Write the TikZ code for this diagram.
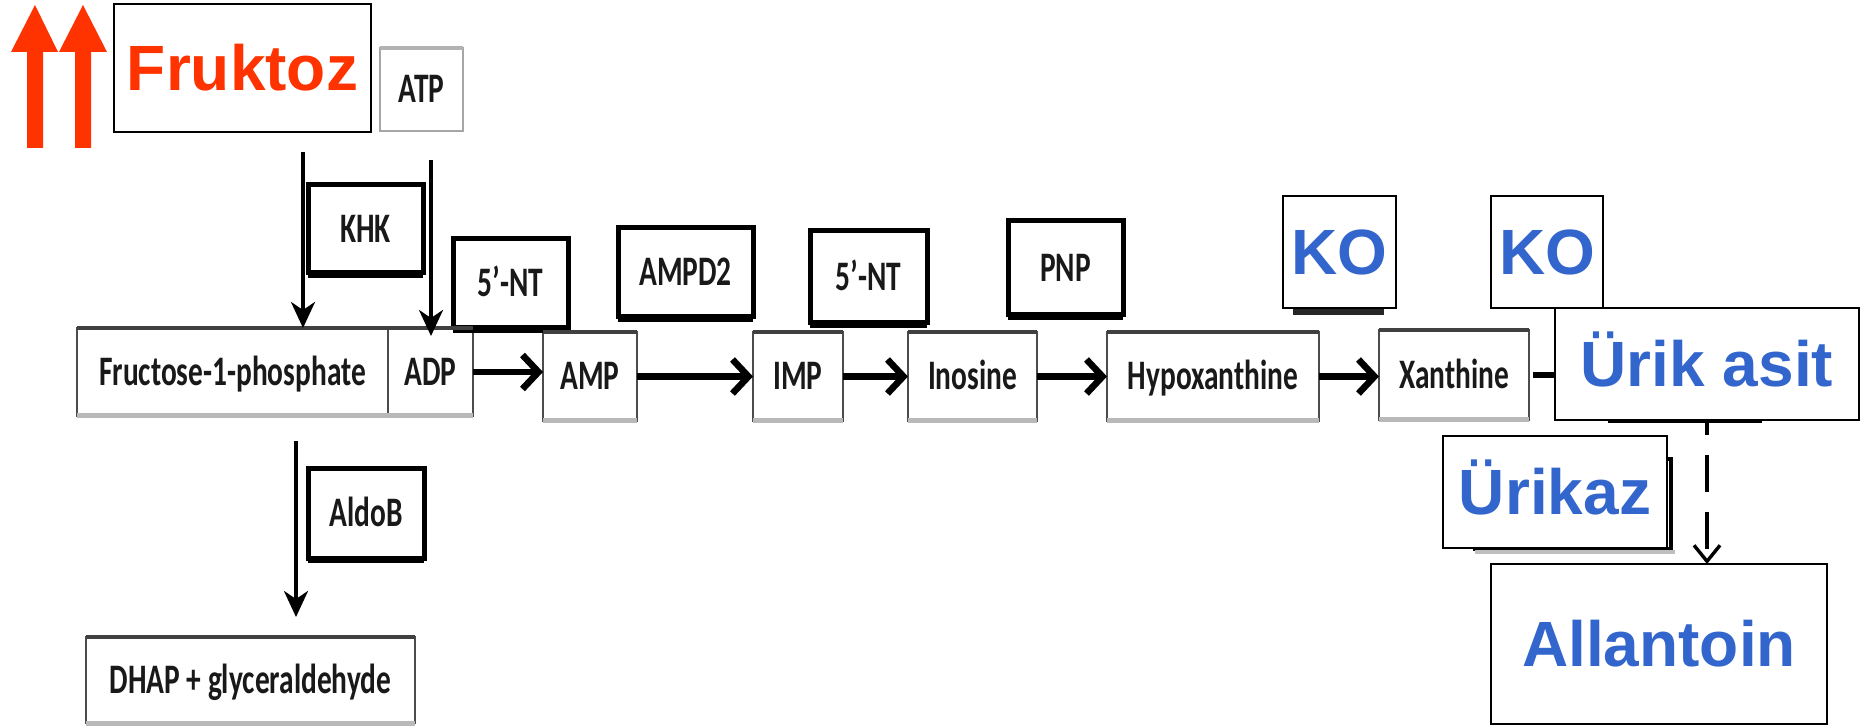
\documentclass[tikz,border=0pt]{standalone}
\usepackage{fontspec}
\usetikzlibrary{arrows.meta,calc}
\newfontfamily\headfont{Liberation Sans}
\newfontfamily\labelfont[FakeStretch=0.70]{Carlito}
\definecolor{fruRed}{RGB}{255,51,0}
\definecolor{koBlue}{RGB}{51,102,204}

% box from its left, top, right and bottom edges (in px units)
\newcommand\placebox[7]{%
  \node[#2, minimum width={0.5pt*((#5)-(#3))}, minimum height={0.5pt*((#6)-(#4))}]
    (#1) at ({((#3)+(#5))/2},{((#4)+(#6))/2}) {#7};}

\tikzset{
  every node/.style={inner sep=0pt, outer sep=0pt},
  labeltext/.style={font=\labelfont\bfseries\fontsize{21pt}{21pt}\selectfont, text=black!90, text height=13.3pt, text depth=0pt},
  bigtext/.style={font=\headfont\bfseries\fontsize{32pt}{32pt}\selectfont, text height=22.9pt, text depth=0pt},
  metab/.style={draw=black!70, line width=1pt, fill=white, labeltext},
  enzyme/.style={draw=black, line width=2.5pt, fill=white, labeltext},
  cofactor/.style={draw=gray!70, line width=1pt, fill=white, labeltext},
  overbox/.style={draw=black, line width=1.1pt, fill=white, bigtext},
  redbox/.style={overbox, text=fruRed},
  bluebox/.style={overbox, text=koBlue},
  flow/.style={line width=3.3pt, -{Straight Barb[length=8pt,width=17pt]}},
  feed/.style={line width=1.8pt, -{Stealth[length=13pt,width=12pt,inset=4pt]}},
  dashflow/.style={line width=1.7pt, dash pattern=on 18.5pt off 10pt, dash phase=11pt,
    -{Straight Barb[length=8pt,width=13pt]}},
  underlay/.style={draw=black, line width=1.2pt, fill=white},
}

\begin{document}
\begin{tikzpicture}[x=0.5pt, y=-0.5pt]
\useasboundingbox (0,0) rectangle (1867,726);

% two rising arrows beside the fructose box
\fill[fruRed] (27,148) -- (27,52) -- (11,52) -- (35,5) -- (58,52) -- (43,52) -- (43,148) -- cycle;
\fill[fruRed] (75,148) -- (75,52) -- (59,52) -- (83,5) -- (107,52) -- (91,52) -- (91,148) -- cycle;

% cofactor, enzymes and metabolites of the pathway
\placebox{atp}{cofactor}{380}{48}{463}{131}{ATP}
\draw[gray!60, line width=2pt] (atp.north west) -- (atp.north east);

\placebox{khk}{enzyme}{308}{185}{423}{273}{KHK}
\placebox{nt1}{enzyme}{453}{239}{568}{328}{5’-NT}
\placebox{ampd}{enzyme}{618}{228}{753}{317}{AMPD2}
\placebox{nt2}{enzyme}{810}{231}{927}{323}{5’-NT}
\placebox{pnp}{enzyme}{1008}{221}{1123}{315}{PNP}
\placebox{aldob}{enzyme}{308}{469}{424}{558}{AldoB}

\placebox{f1p}{metab}{77}{328}{388}{416}{Fructose-1-phosphate}
\placebox{adp}{metab}{388}{328}{473}{416}{ADP}
\placebox{amp}{metab}{543}{332}{637}{421}{AMP}
\placebox{imp}{metab}{753}{332}{843}{421}{IMP}
\placebox{ino}{metab}{908}{332}{1037}{421}{Inosine}
\placebox{hyp}{metab}{1107}{332}{1319}{421}{Hypoxanthine}
\placebox{xan}{metab}{1379}{330}{1529}{420}{Xanthine}
\placebox{dhap}{metab}{86}{637}{415}{723}{DHAP + glyceraldehyde}

% heavier lower edges of the enzyme boxes, grey base and dark top of the metabolite boxes
\foreach \n in {khk,nt1,ampd,nt2,pnp,aldob}
  \draw[black, line width=3.5pt] ($(\n.south west)+(0,1.5)$) -- ($(\n.south east)+(0,1.5)$);
\foreach \n in {f1p,adp,amp,imp,ino,hyp,xan,dhap}{
  \draw[black!75, line width=1.6pt] (\n.north west) -- (\n.north east);
  \draw[gray!55, line width=2.5pt] (\n.south west) -- (\n.south east);
}

% fructose feeding arrows
\placebox{fruk}{redbox}{114}{4}{371}{132}{Fruktoz}
\coordinate (kin) at (303,152);
\coordinate (atpin) at (431,160);
\coordinate (aldin) at (296,441);
\draw[feed] (kin) -- (kin |- f1p.north);
\draw[feed] (atpin) -- ($(atpin |- adp.north)+(0,8)$);
\draw[feed] (aldin) -- ($(aldin |- dhap.north)+(0,-20)$);

% main purine degradation chain
\draw[flow] (adp.east) -- (adp.east -| amp.west);
\draw[flow] (amp.east) -- (imp.west);
\draw[flow] (imp.east) -- (ino.west);
\draw[flow] (ino.east) -- (hyp.west);
\draw[flow] (hyp.east) -- (hyp.east -| xan.west);
\coordinate (uaedge) at (1556,377);
\draw[line width=3.3pt] ($(xan.east)+(4,0)$) -- (xan.east -| uaedge);

% boxes lying underneath the labels
\draw[black!85, line width=3.5pt, fill=white] (1296,230) rectangle (1380,312);
\draw[underlay] (1609,340) rectangle (1761,422);
\draw[underlay, line width=2pt] (1475,459) rectangle (1671,549);
\draw[gray!50, line width=2pt] (1475,552) -- (1675,552);

% labels placed over the pathway
\placebox{ko1}{bluebox}{1283}{196}{1396}{308}{KO}
\placebox{ko2}{bluebox}{1491}{196}{1603}{308}{KO}
\placebox{uric}{bluebox}{1555}{308}{1859}{420}{Ürik asit}
\placebox{urikaz}{bluebox}{1443}{436}{1667}{548}{Ürikaz}
\placebox{allan}{bluebox}{1491}{564}{1827}{724}{Allantoin}

\draw[dashflow] (uric.south) -- (uric.south |- allan.north);
\end{tikzpicture}
\end{document}
